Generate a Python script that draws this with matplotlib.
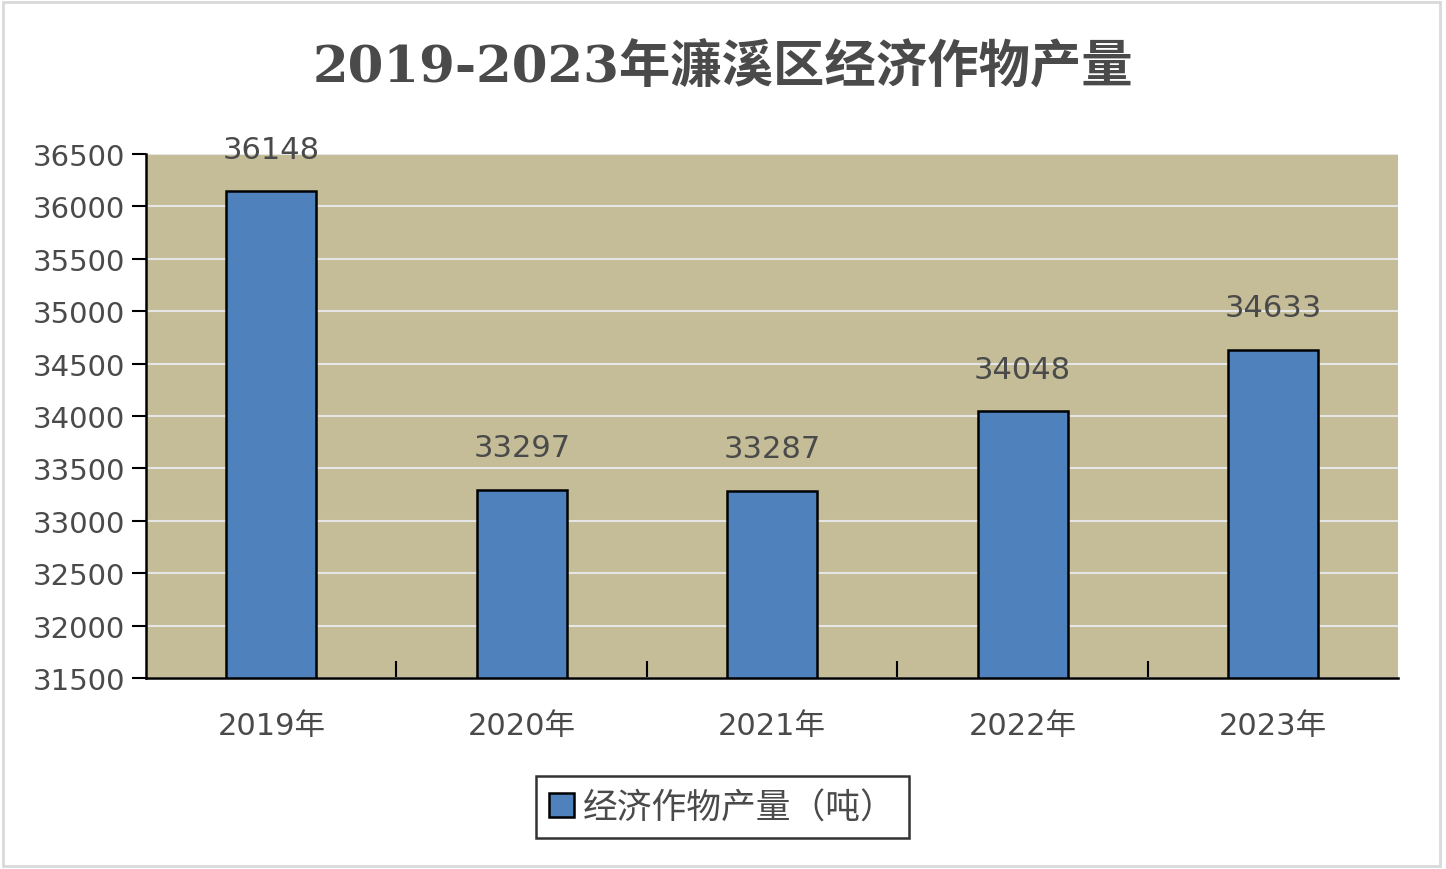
import numpy as np
import matplotlib.pyplot as plt
from matplotlib.patches import Rectangle

plt.rcParams['font.family'] = ['DejaVu Sans', 'Noto Sans CJK SC']

years = ['2019年', '2020年', '2021年', '2022年', '2023年']
output = [36148, 33297, 33287, 34048, 34633]
series_name = '经济作物产量（吨）'
title = '2019-2023年濂溪区经济作物产量'

fig = plt.figure(figsize=(14.46, 8.7), dpi=100)
ax = fig.add_axes([0.101, 0.2195, 0.866, 0.6025])

# outer frame of the chart
fig.patches.append(Rectangle((0.002, 0.004), 0.994, 0.992, transform=fig.transFigure,
                             fill=False, edgecolor='#d9d9d9', linewidth=2))

x = np.arange(len(years))
bars = ax.bar(x, np.array(output) - 31500, bottom=31500, width=0.36,
              color='#4f81bd', edgecolor='black', linewidth=1.8,
              label=series_name, zorder=3)

txt_col = '#4a4a4a'
for xi, v in zip(x, output):
    ax.text(xi, v + 260, str(v), ha='center', va='bottom', fontsize=22,
            color=txt_col, zorder=4)

ax.set_facecolor('#c4bd97')
ax.set_xlim(-0.5, len(years) - 0.5)
ax.set_ylim(31500, 36500)
ax.set_yticks(np.arange(31500, 36501, 500))
ax.tick_params(axis='y', labelsize=21, labelcolor=txt_col, length=10, width=1.5,
               direction='out', pad=5)
ax.grid(axis='y', color='#e6e6e6', linewidth=1.5, zorder=1)

ax.set_xticks(x)
ax.set_xticklabels(years)
ax.tick_params(axis='x', labelsize=22, labelcolor=txt_col, length=0, pad=24)
ax.set_xticks(np.arange(0.5, len(years) - 0.5), minor=True)
ax.tick_params(axis='x', which='minor', direction='in', length=12, width=1.5)

for s in ['top', 'right']:
    ax.spines[s].set_visible(False)
for s in ['left', 'bottom']:
    ax.spines[s].set_linewidth(1.8)

fig.text(0.5, 0.921, title, ha='center', va='center', fontsize=37, fontweight='bold',
         color='#4a4a4a', family=['DejaVu Serif', 'Noto Sans CJK SC'])

leg = fig.legend(loc='center', bbox_to_anchor=(0.4995, 0.071), fontsize=25,
                 frameon=True, fancybox=False, edgecolor='black', handlelength=0.7,
                 handleheight=0.7, handletextpad=0.25, borderpad=0.4)
leg.get_frame().set_linewidth(1.8)
for t in leg.get_texts():
    t.set_color(txt_col)

fig.savefig('out.png', dpi=100, facecolor='white')
